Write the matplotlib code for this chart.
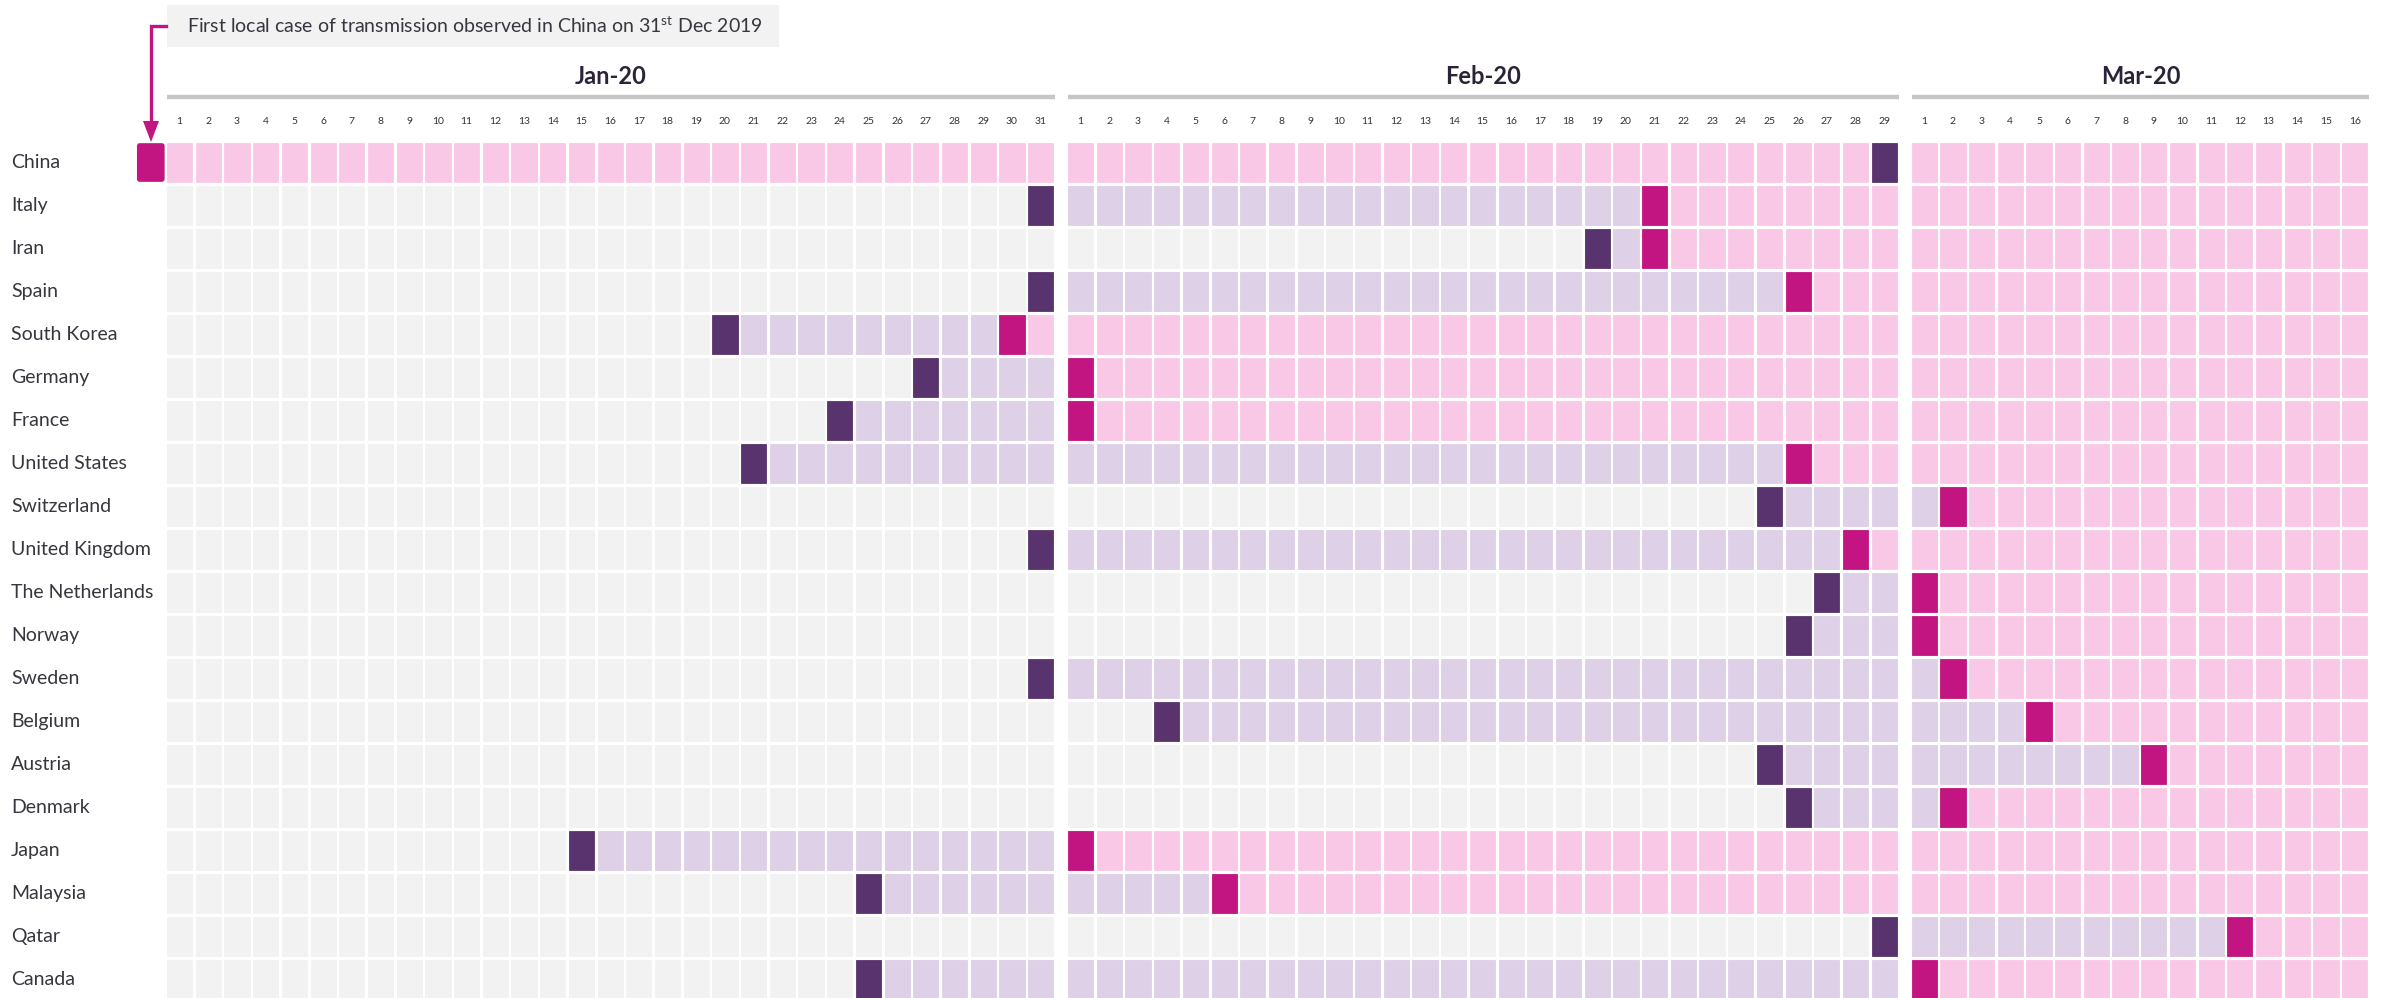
import numpy as np
import pandas as pd
import matplotlib
matplotlib.use("Agg")
import matplotlib.pyplot as plt
from matplotlib.patches import Rectangle, FancyBboxPatch

plt.rcParams['font.family'] = ['Lato', 'DejaVu Sans']
plt.rcParams['mathtext.fontset'] = 'custom'
plt.rcParams['mathtext.rm'] = 'Lato'

# Countries (top to bottom) with date of first case and first local transmission
countries = ['China', 'Italy', 'Iran', 'Spain', 'South Korea', 'Germany', 'France',
             'United States', 'Switzerland', 'United Kingdom', 'The Netherlands',
             'Norway', 'Sweden', 'Belgium', 'Austria', 'Denmark', 'Japan',
             'Malaysia', 'Qatar', 'Canada']
first_case = ['2020-02-29', '2020-01-31', '2020-02-19', '2020-01-31', '2020-01-20',
              '2020-01-27', '2020-01-24', '2020-01-21', '2020-02-25', '2020-01-31',
              '2020-02-27', '2020-02-26', '2020-01-31', '2020-02-04', '2020-02-25',
              '2020-02-26', '2020-01-15', '2020-01-25', '2020-02-29', '2020-01-25']
local_case = ['2019-12-31', '2020-02-21', '2020-02-21', '2020-02-26', '2020-01-30',
              '2020-02-01', '2020-02-01', '2020-02-26', '2020-03-02', '2020-02-28',
              '2020-03-01', '2020-03-01', '2020-03-02', '2020-03-05', '2020-03-09',
              '2020-03-02', '2020-02-01', '2020-02-06', '2020-03-12', '2020-03-01']
months = ['Jan-20', 'Feb-20', 'Mar-20']
days = pd.date_range('2020-01-01', '2020-03-16')

c_none = '#f2f2f2'
c_import = '#ded0e7'
c_first = '#59336e'
c_local = '#c21581'
c_after = '#f9c8e7'
txt = '#36363f'

# layout in pixels
W, H = 2387, 998
x0, pitch, cw, mgap = 167, 28.7, 25.2, 11.3
y0, rpitch, ch = 143, 43.0, 39

fig = plt.figure(figsize=(W / 100, H / 100), dpi=100)
ax = fig.add_axes([0, 0, 1, 1])
ax.set_xlim(0, W)
ax.set_ylim(H, 0)
ax.axis('off')

month_idx = days.month - 1
col_x = x0 + np.arange(len(days)) * pitch + month_idx * mgap

for r, name in enumerate(countries):
    fc = pd.Timestamp(first_case[r])
    lc = pd.Timestamp(local_case[r])
    y = y0 + r * rpitch
    for i, d in enumerate(days):
        if d == fc:
            col = c_first
        elif d == lc:
            col = c_local
        elif d < fc and d < lc:
            col = c_none
        elif d > lc:
            col = c_after
        else:
            col = c_import
        ax.add_patch(Rectangle((col_x[i], y), cw, ch, facecolor=col,
                               edgecolor=col, lw=0.6))
    if lc < days[0]:
        ax.add_patch(FancyBboxPatch((x0 - pitch - 0.5, y + 1), cw + 0.8, ch - 2,
                                    boxstyle='round,pad=0,rounding_size=2',
                                    facecolor=c_local, edgecolor=c_local, lw=1.2))
    ax.text(11, y + ch / 2, name, ha='left', va='center', fontsize=14, color=txt)

# day numbers
for i, d in enumerate(days):
    ax.text(col_x[i] + cw / 2, 121, str(d.day), ha='center', va='center',
            fontsize=7.5, color='#333333')

# month headers
for m, label in enumerate(months):
    xs = col_x[month_idx == m]
    left, right = xs.min(), xs.max() + cw + 2
    ax.plot([left, right], [97, 97], color='#c6c6c6', lw=3.2, solid_capstyle='butt')
    ax.text((left + right) / 2, 76, label, ha='center', va='center',
            fontsize=17, fontweight='bold', color='#2b2338')

# annotation box and arrow
ax.add_patch(Rectangle((167, 5), 612, 42, facecolor='#f2f2f2', edgecolor='none'))
ax.text(187, 26, 'First local case of transmission observed in China on 31$^{\\mathrm{st}}$ Dec 2019',
        ha='left', va='center', fontsize=14, color=txt)
ax.plot([166, 151, 151], [26, 26, 122], color=c_local, lw=2.4, solid_joinstyle='miter')
ax.add_patch(plt.Polygon([[143, 121], [159, 121], [151, 142]], closed=True,
                         facecolor=c_local, edgecolor='none'))

fig.savefig('out.png', dpi=100)
